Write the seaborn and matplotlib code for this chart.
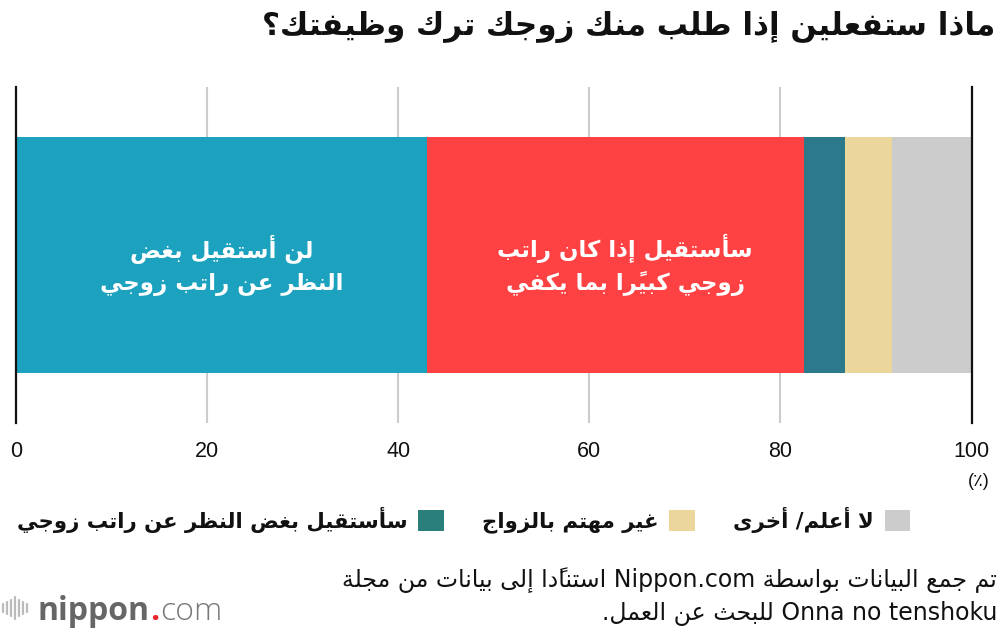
import matplotlib
matplotlib.use("Agg")
import matplotlib.pyplot as plt
import seaborn as sns
import pandas as pd
from matplotlib.patches import Patch
from matplotlib.lines import Line2D

# ---- data ----
title = "ماذا ستفعلين إذا طلب منك زوجك ترك وظيفتك؟"
categories = ["لن أستقيل بغض النظر عن راتب زوجي",
              "سأستقيل إذا كان راتب زوجي كبيرًا بما يكفي",
              "سأستقيل بغض النظر عن راتب زوجي",
              "غير مهتم بالزواج",
              "لا أعلم/ أخرى"]
values = [43.0, 39.5, 4.3, 4.9, 8.3]
colors = ["#1ca2bf", "#fe4244", "#2c798b", "#ebd69b", "#cccccc"]
legend_colors = ["#2a7f7a", "#ebd69b", "#cccccc"]
bar_label_lines = [["لن أستقيل بغض", "النظر عن راتب زوجي"],
                   ["سأستقيل إذا كان راتب", "زوجي كبيرًا بما يكفي"]]
xticks = [0, 20, 40, 60, 80, 100]
unit = "(٪)"
source_lines = ["تم جمع البيانات بواسطة Nippon.com استنادًا إلى بيانات من مجلة",
                "Onna no tenshoku للبحث عن العمل."]

# ---- minimal arabic shaping (matplotlib has no RTL / joining support) ----
# number of presentation forms per letter, in Presentation Forms-B order
FORMS = {}
_code = 0xFE80
_counts = "1" + "2222" + "4" + "2" + "4" + "2" + "4" * 5 + "2" * 4 + "4" * 15 + "22" + "4"
for ch, n in zip("ءآأؤإئابةتثجحخدذرزسشصضطظعغفقكلمنهوىي", _counts):
    FORMS[ch] = [_code + k for k in range(int(n))]
    _code += int(n)
LAM_ALEF = {"آ": 0xFEF5, "أ": 0xFEF7, "إ": 0xFEF9, "ا": 0xFEFB}


def is_mark(c):
    return "\u064B" <= c <= "\u065F" or c == "\u0670"


def shape_word(word):
    # clusters: [base, marks]
    clusters = []
    for c in word:
        if is_mark(c) and clusters:
            clusters[-1][1] += c
        else:
            clusters.append([c, ""])
    # merge lam + alef
    merged = []
    for cl in clusters:
        if merged and merged[-1][0] == "ل" and cl[0] in LAM_ALEF:
            merged[-1] = ["LA" + cl[0], merged[-1][1] + cl[1]]
        else:
            merged.append(cl)

    def joins_fwd(b):
        return b in FORMS and len(FORMS[b]) == 4

    def joins_back(b):
        return b.startswith("LA") or (b in FORMS and len(FORMS[b]) >= 2)

    out = []
    for i, (b, marks) in enumerate(merged):
        prev = merged[i - 1][0] if i > 0 else ""
        nxt = merged[i + 1][0] if i + 1 < len(merged) else ""
        p = joins_fwd(prev)
        if b.startswith("LA"):
            g = chr(LAM_ALEF[b[2]] + (1 if p else 0))
        elif b in FORMS:
            f = FORMS[b]
            nx = joins_back(nxt)
            if len(f) == 1:
                k = 0
            elif len(f) == 2:
                k = 1 if p else 0
            else:
                k = 3 if (p and nx) else 1 if p else 2 if nx else 0
            g = chr(f[k])
        else:
            g = b
        out.append(g + marks)
    return "".join(reversed(out))


def rtl(text):
    runs = []
    for w in text.split(" "):
        latin = any("a" <= c.lower() <= "z" for c in w)
        if latin and runs and runs[-1][0]:
            runs[-1][1].append(w)
        else:
            runs.append([latin, [w]])
    parts = []
    for latin, ws in reversed(runs):
        if latin:
            parts.append(" ".join(ws))
        else:
            parts.append(" ".join(shape_word(w) for w in reversed(ws)))
    return " ".join(parts)


# ---- plot ----
sns.set_theme(style="white")
plt.rcParams["font.family"] = ["DejaVu Sans"]

fig = plt.figure(figsize=(10, 6.34), dpi=100)
ax = fig.add_axes([0.016, 211 / 634, 0.9555, 336 / 634])

df = pd.DataFrame({"cat": categories, "value": values, "color": colors})
df["cum"] = df["value"].cumsum()
df["start"] = df["cum"] - df["value"]

# stacked bar: draw cumulative totals from the largest down
for _, row in df.iloc[::-1].iterrows():
    sns.barplot(x=[row["cum"]], y=["q"], color=row["color"], orient="h",
                width=0.7, saturation=1, linewidth=0, ax=ax)

ax.set_xlim(0, 100)
ax.set_ylim(0.5, -0.5)
ax.set_xticks(xticks)
ax.set_xticklabels([str(t) for t in xticks], fontfamily="Liberation Sans",
                   fontsize=15.5, color="#111111")
ax.set_yticks([])
ax.set_xlabel("")
ax.set_ylabel("")
ax.tick_params(axis="x", length=0, pad=13)
ax.grid(axis="x", color="#cccccc", linewidth=1.5)
ax.set_axisbelow(True)
for s in ["top", "bottom"]:
    ax.spines[s].set_visible(False)
for s in ["left", "right"]:
    ax.spines[s].set_color("#111111")
    ax.spines[s].set_linewidth(1.6)

# labels inside the two big segments
for i, lines in enumerate(bar_label_lines):
    cx = df["start"][i] + df["value"][i] / 2 + (1 if i == 1 else 0)
    ax.text(cx, 0.03, "\n".join(rtl(l) for l in lines), ha="center",
            va="center", color="white", fontsize=16.5, fontweight="bold",
            linespacing=1.45)

fig.text(0.99, 1 - 481 / 634, unit, ha="right", va="center", fontsize=13,
         color="#111111", fontfamily=["Liberation Sans", "DejaVu Sans"])

t_title = fig.text(0.995, 1 - 27 / 634, rtl(title), ha="right", va="center",
                   fontsize=24, fontweight="bold", color="#111111")

handles = [Patch(facecolor=c, edgecolor="none") for c in legend_colors]
labels = [rtl(c) for c in categories[2:]]
leg = fig.legend(handles, labels, ncol=3, markerfirst=False, frameon=False,
                 loc="center right", bbox_to_anchor=(0.91, 1 - 520 / 634),
                 fontsize=15.3, handlelength=1.2, handleheight=1.15,
                 handletextpad=0.5, columnspacing=1.8, borderpad=0,
                 borderaxespad=0)
for txt in leg.get_texts():
    txt.set_color("#111111")
    txt.set_fontweight("bold")

t_src = [fig.text(0.997, 1 - y / 634, rtl(s), ha="right", va="center",
                  fontsize=16, color="#111111")
         for s, y in zip(source_lines, [580, 613])]

# fit title / source widths to reference
fig.canvas.draw()
r = fig.canvas.get_renderer()
w = t_title.get_window_extent(r).width
t_title.set_fontsize(24 * 735 / w)
w = t_src[0].get_window_extent(r).width
for t in t_src:
    t.set_fontsize(16 * 654 / w)

# nippon.com logo
x0 = 37
parts = [("nippon", "#666666", "bold"), (".", "#e8262a", "bold"),
         ("com", "#777777", "light")]
for s, c, wt in parts:
    t = fig.text(x0 / 1000, 1 - 620 / 634, s, ha="left", va="baseline",
                 fontsize=23, color=c, fontweight=wt, fontfamily="Open Sans")
    x0 += t.get_window_extent(r).width + 1
for k, h in enumerate([8, 12, 16, 22, 16, 12, 8]):
    xx = (3 + k * 4) / 1000
    fig.add_artist(Line2D([xx, xx], [1 - (608 + h / 2) / 634, 1 - (608 - h / 2) / 634],
                          color="#bbbbbb", linewidth=1.6))

fig.savefig("out.png", dpi=100)
